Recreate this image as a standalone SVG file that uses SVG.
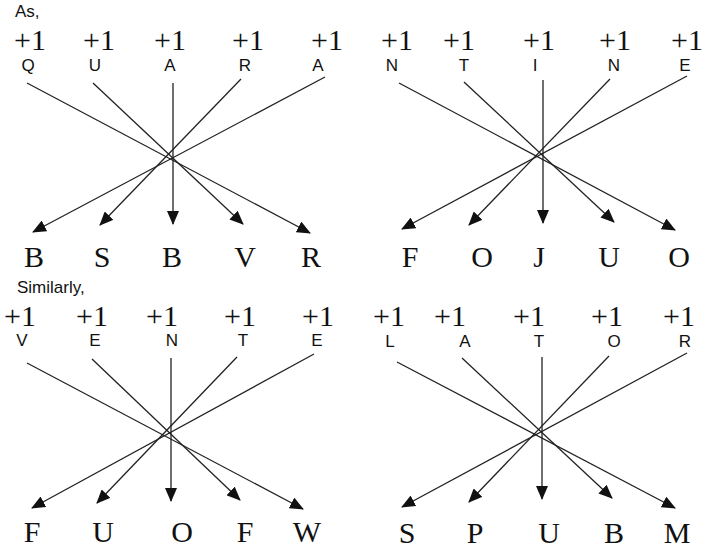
<svg xmlns="http://www.w3.org/2000/svg" width="704" height="551" viewBox="0 0 704 551">
<defs>
<marker id="ah" markerUnits="userSpaceOnUse" markerWidth="14" markerHeight="12" refX="13" refY="6" orient="auto">
<path d="M0,0 L14,6 L0,12 z" fill="#111"/>
</marker>
<style>
.ln{stroke:#222;stroke-width:1.3;fill:none;marker-end:url(#ah)}
.p1{font-family:"Liberation Serif",serif;font-size:30px;fill:#111;text-anchor:middle}
.sm{font-family:"Liberation Sans",Arial,sans-serif;font-size:17px;fill:#111;text-anchor:middle}
.lbl{font-family:"Liberation Sans",Arial,sans-serif;font-size:17px;fill:#111}
.big{font-family:"Liberation Serif",serif;font-size:30px;fill:#111;text-anchor:middle}
</style>
</defs>
<rect width="704" height="551" fill="#fff"/>
<text class="lbl" x="15" y="17">As,</text>
<text class="lbl" x="17" y="293">Similarly,</text>

<g id="top-left">
<text class="p1" x="30" y="50">+1</text><text class="p1" x="99" y="50">+1</text><text class="p1" x="170" y="50">+1</text><text class="p1" x="248" y="50">+1</text><text class="p1" x="327" y="50">+1</text>
<text class="sm" x="28" y="71">Q</text><text class="sm" x="95" y="71">U</text><text class="sm" x="170" y="71">A</text><text class="sm" x="245" y="71">R</text><text class="sm" x="318" y="71">A</text>
<text class="big" x="34" y="267">B</text><text class="big" x="102" y="267">S</text><text class="big" x="172" y="267">B</text><text class="big" x="245" y="267">V</text><text class="big" x="311" y="267">R</text>
</g>
<g id="top-right">
<text class="p1" x="397" y="50">+1</text><text class="p1" x="459" y="50">+1</text><text class="p1" x="539" y="50">+1</text><text class="p1" x="615" y="50">+1</text><text class="p1" x="687" y="50">+1</text>
<text class="sm" x="392" y="71">N</text><text class="sm" x="464" y="71">T</text><text class="sm" x="535" y="71">I</text><text class="sm" x="614" y="71">N</text><text class="sm" x="685" y="71">E</text>
<text class="big" x="410" y="267">F</text><text class="big" x="482" y="267">O</text><text class="big" x="539" y="267">J</text><text class="big" x="609" y="267">U</text><text class="big" x="679" y="267">O</text>
</g>
<g id="bottom-left">
<text class="p1" x="20" y="326">+1</text><text class="p1" x="92" y="326">+1</text><text class="p1" x="162" y="326">+1</text><text class="p1" x="240" y="326">+1</text><text class="p1" x="318" y="326">+1</text>
<text class="sm" x="22" y="346">V</text><text class="sm" x="95" y="346">E</text><text class="sm" x="172" y="346">N</text><text class="sm" x="243" y="346">T</text><text class="sm" x="317" y="346">E</text>
<text class="big" x="32" y="542">F</text><text class="big" x="103" y="542">U</text><text class="big" x="182" y="542">O</text><text class="big" x="245" y="542">F</text><text class="big" x="307" y="542">W</text>
</g>
<g id="bottom-right">
<text class="p1" x="389" y="326">+1</text><text class="p1" x="450" y="326">+1</text><text class="p1" x="529" y="326">+1</text><text class="p1" x="607" y="326">+1</text><text class="p1" x="679" y="326">+1</text>
<text class="sm" x="390" y="347">L</text><text class="sm" x="465" y="347">A</text><text class="sm" x="539" y="347">T</text><text class="sm" x="614" y="347">O</text><text class="sm" x="685" y="347">R</text>
<text class="big" x="407" y="543">S</text><text class="big" x="475" y="543">P</text><text class="big" x="549" y="543">U</text><text class="big" x="614" y="543">B</text><text class="big" x="677" y="543">M</text>
</g>

<g id="connectors">
<line class="ln" x1="27" y1="83" x2="310" y2="233"/>
<line class="ln" x1="93" y1="83" x2="243" y2="224"/>
<line class="ln" x1="173" y1="83" x2="173" y2="224"/>
<line class="ln" x1="241" y1="79" x2="100" y2="225"/>
<line class="ln" x1="325" y1="77" x2="33" y2="232"/>

<line class="ln" x1="399" y1="83" x2="675" y2="230"/>
<line class="ln" x1="464" y1="82" x2="614" y2="222"/>
<line class="ln" x1="543" y1="80" x2="543" y2="223"/>
<line class="ln" x1="610" y1="79" x2="469" y2="225"/>
<line class="ln" x1="687" y1="76" x2="402" y2="229"/>

<line class="ln" x1="27" y1="363" x2="303" y2="509"/>
<line class="ln" x1="92" y1="359" x2="240" y2="500"/>
<line class="ln" x1="171" y1="358" x2="171" y2="501"/>
<line class="ln" x1="237" y1="357" x2="97" y2="503"/>
<line class="ln" x1="314" y1="354" x2="32" y2="508"/>

<line class="ln" x1="397" y1="362" x2="675" y2="508"/>
<line class="ln" x1="462" y1="358" x2="612" y2="498"/>
<line class="ln" x1="542" y1="357" x2="542" y2="499"/>
<line class="ln" x1="609" y1="356" x2="469" y2="502"/>
<line class="ln" x1="687" y1="353" x2="402" y2="507"/>
</g>
</svg>
